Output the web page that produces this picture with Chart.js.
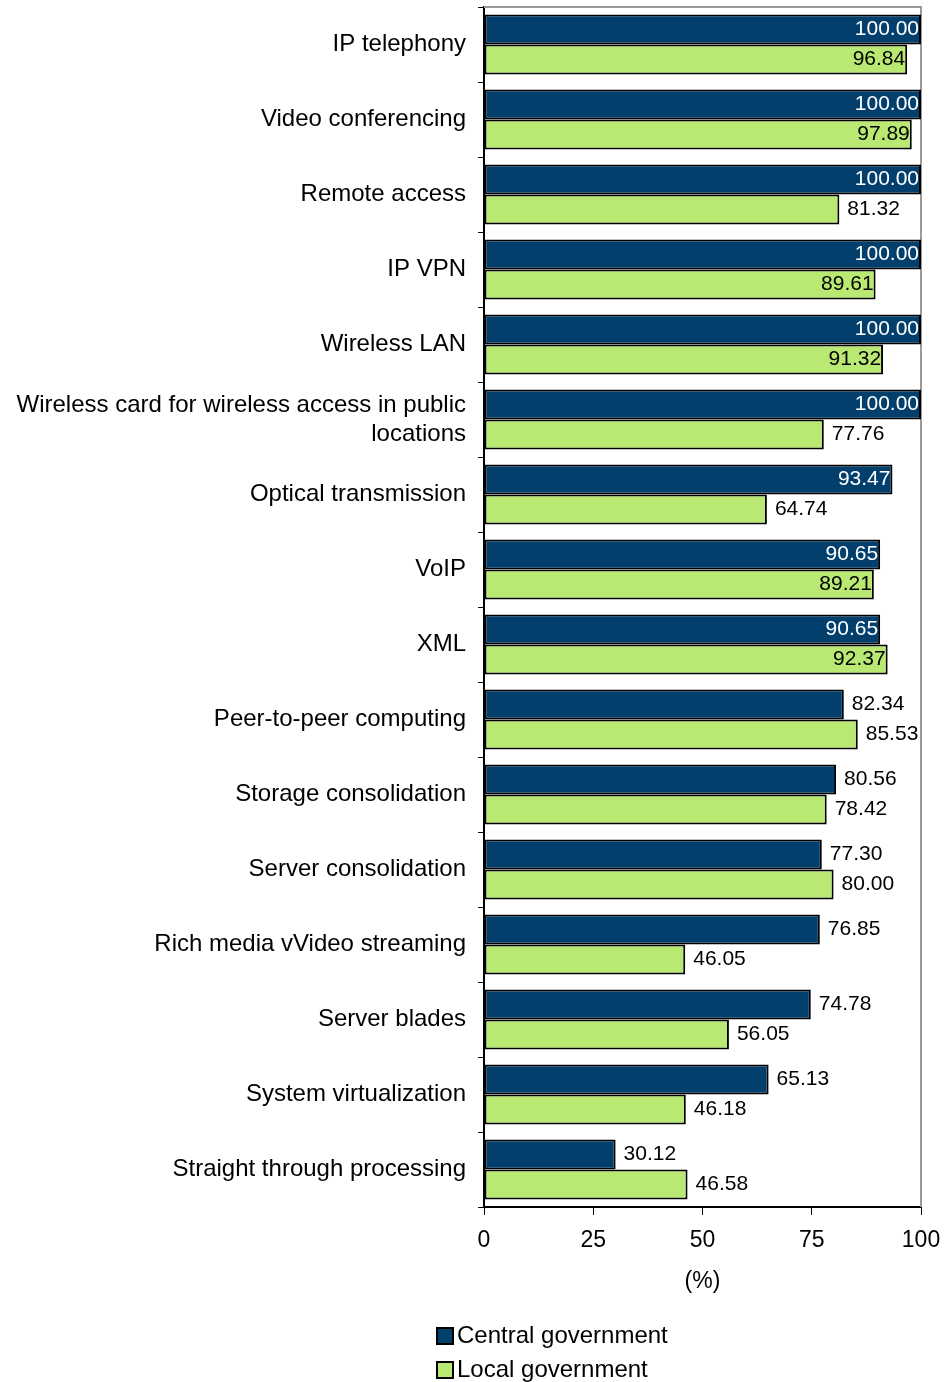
<!DOCTYPE html>
<html>
<head>
<meta charset="utf-8">
<script src="https://cdn.jsdelivr.net/npm/chart.js@4/dist/chart.umd.min.js"></script>
<style>
  body { margin:0; background:#fff; }
  canvas { display:block; }
</style>
</head>
<body>
<canvas id="chart" width="944" height="1382"></canvas>
<script>
const categories = [
  'IP telephony', 'Video conferencing', 'Remote access', 'IP VPN', 'Wireless LAN',
  ['Wireless card for wireless access in public', 'locations'],
  'Optical transmission', 'VoIP', 'XML', 'Peer-to-peer computing',
  'Storage consolidation', 'Server consolidation', 'Rich media vVideo streaming',
  'Server blades', 'System virtualization', 'Straight through processing'
];
const central = [100, 100, 100, 100, 100, 100, 93.47, 90.65, 90.65, 82.34, 80.56, 77.30, 76.85, 74.78, 65.13, 30.12];
const local = [96.84, 97.89, 81.32, 89.61, 91.32, 77.76, 64.74, 89.21, 92.37, 85.53, 78.42, 80.00, 46.05, 56.05, 46.18, 46.58];
const xTicks = [0, 25, 50, 75, 100];

const NAVY = '#023f6d', GREEN = '#b9e972';
const FONT = '"Liberation Sans", Arial, sans-serif';

// gray frame on top and right of the plot
const frame = {
  id:'frame',
  beforeDatasetsDraw(c){
    const a = c.chartArea, g = c.ctx;
    g.save();
    g.strokeStyle = '#9a9a9a'; g.lineWidth = 2;
    g.beginPath();
    g.moveTo(a.left, a.top); g.lineTo(a.right, a.top); g.lineTo(a.right, a.bottom);
    g.stroke();
    g.restore();
  }
};

// value labels: outside the bar end, or inside when there is no room
const valueLabels = {
  id:'valueLabels',
  afterDatasetsDraw(c){
    const g = c.ctx, right = c.chartArea.right;
    g.save();
    g.font = '21px ' + FONT;
    g.textBaseline = 'middle';
    c.data.datasets.forEach((ds, i) => {
      c.getDatasetMeta(i).data.forEach((el, j) => {
        const txt = ds.data[j].toFixed(2);
        const w = g.measureText(txt).width;
        if (el.x + 8 + w > right) {
          g.textAlign = 'right';
          g.fillStyle = i === 0 ? '#ffffff' : '#000000';
          g.fillText(txt, el.x - 2, el.y);
        } else {
          g.textAlign = 'left';
          g.fillStyle = '#000000';
          g.fillText(txt, el.x + 8, el.y);
        }
      });
    });
    g.restore();
  }
};

const legendList = {
  id:'legendList',
  afterDraw(c){
    const g = c.ctx;
    g.save();
    g.font = '24px ' + FONT;
    g.textBaseline = 'middle';
    g.textAlign = 'left';
    c.data.datasets.forEach((ds, i) => {
      const y = 1336 + i * 34;
      g.fillStyle = ds.backgroundColor;
      g.fillRect(437, y - 8, 16, 16);
      g.strokeStyle = '#000'; g.lineWidth = 2;
      g.strokeRect(437, y - 8, 16, 16);
      g.fillStyle = '#000';
      g.fillText(ds.label, 457, y);
    });
    g.restore();
  }
};

new Chart(document.getElementById('chart'), {
  type:'bar',
  data:{
    labels:categories,
    datasets:[
      { label:'Central government', data:central, backgroundColor:NAVY, borderColor:'#000', borderWidth:2, borderSkipped:false },
      { label:'Local government', data:local, backgroundColor:GREEN, borderColor:'#000', borderWidth:2, borderSkipped:false }
    ]
  },
  options:{
    indexAxis:'y',
    responsive:false,
    animation:false,
    categoryPercentage:0.8,
    barPercentage:1.0,
    layout:{ padding:{ top:7, right:23, bottom:87, left:0 } },
    plugins:{ legend:{ display:false }, tooltip:{ enabled:false } },
    scales:{
      y:{
        grid:{ offset:true, drawOnChartArea:false, tickLength:6, color:'#000', lineWidth:1 },
        border:{ color:'#000', width:2 },
        ticks:{ color:'#000', padding:12, font:{ family:FONT, size:24, lineHeight:1.2 } },
        afterFit(s){ s.width = 484; s.paddingTop = 0; s.paddingBottom = 0; }
      },
      x:{
        min:0, max:100,
        afterBuildTicks(s){ s.ticks = xTicks.map(v => ({ value:v })); },
        grid:{ drawOnChartArea:false, tickLength:8, color:'#000', lineWidth:1 },
        border:{ color:'#000', width:2 },
        ticks:{ color:'#000', padding:12, font:{ family:FONT, size:23 } },
        title:{ display:true, text:'(%)', color:'#000', padding:{ top:0, bottom:0 }, font:{ family:FONT, size:23 } },
        afterFit(s){ s.height = 88; s.paddingLeft = 0; s.paddingRight = 0; }
      }
    }
  },
  plugins:[frame, valueLabels, legendList]
});
</script>
</body>
</html>
